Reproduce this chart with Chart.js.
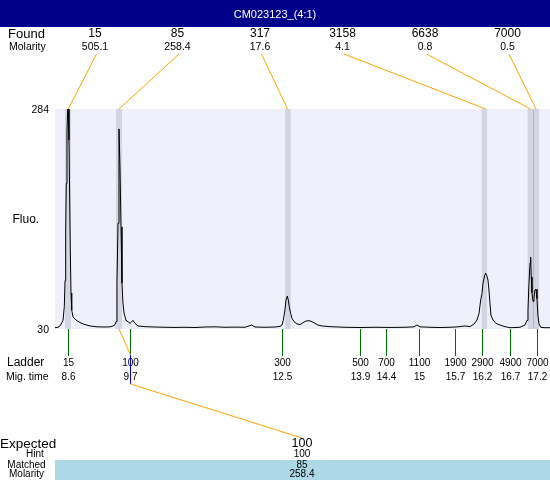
<!DOCTYPE html>
<html>
<head>
<meta charset="utf-8">
<script src="https://cdn.jsdelivr.net/npm/chart.js@4"></script>
<style>
  html, body { margin: 0; padding: 0; background: #ffffff; }
  canvas { display: block; }
</style>
</head>
<body>
<canvas id="c" width="550" height="480"></canvas>
<script>
// ---------- data ----------
const chartTitle = 'CM023123_(4:1)';

const foundSizes = ['15', '85', '317', '3158', '6638', '7000'];
const foundMolarity = ['505.1', '258.4', '17.6', '4.1', '0.8', '0.5'];
const foundTimes = [8.600, 9.531, 12.625, 16.263, 17.089, 17.187];
const bandStart = [8.540, 9.476, 12.582, 16.190, 17.034, 17.141];
const bandEnd   = [8.650, 9.586, 12.683, 16.287, 17.141, 17.242];

const ladderSizes = ['15', '100', '300', '500', '700', '1100', '1900', '2900', '4900', '7000'];
const ladderTimeLabels = ['8.6', '9.7', '12.5', '13.9', '14.4', '15', '15.7', '16.2', '16.7', '17.2'];
const ladderTimes = [8.600, 9.733, 12.524, 13.950, 14.433, 15.044, 15.705, 16.190, 16.709, 17.199];
const matchedLadderIndex = 1;
const matchedFoundIndex = 1;

const yTicks = [30, 284];

const expectedSize = '100';
const hintSize = '100';
const matchedSize = '85';
const matchedMolarity = '258.4';

const traceTime = [
  8.356, 8.411, 8.448, 8.479, 8.503, 8.527, 8.540, 8.552, 8.563, 8.576,
  8.589, 8.600, 8.613, 8.626, 8.637, 8.650, 8.663, 8.686, 8.723, 8.760,
  8.815, 8.888, 8.999, 9.127, 9.274, 9.366, 9.421, 9.458, 9.476, 9.494,
  9.513, 9.531, 9.549, 9.568, 9.586, 9.604, 9.623, 9.659, 9.696, 9.733,
  9.760, 9.788, 9.825, 9.880, 10.008, 10.192, 10.375, 10.559, 10.743, 10.926,
  11.110, 11.293, 11.477, 11.661, 11.844, 11.967, 12.028, 12.211, 12.395, 12.487,
  12.524, 12.547, 12.578, 12.597, 12.621, 12.639, 12.657, 12.683, 12.707, 12.744,
  12.799, 12.854, 12.909, 12.964, 13.019, 13.074, 13.129, 13.184, 13.258, 13.405,
  13.680, 13.955, 14.231, 14.506, 14.782, 14.947, 15.002, 15.057, 15.241, 15.424,
  15.608, 15.755, 15.883, 15.975, 16.049, 16.104, 16.141, 16.172, 16.196, 16.214,
  16.245, 16.263, 16.287, 16.305, 16.323, 16.342, 16.360, 16.397, 16.452, 16.526,
  16.617, 16.709, 16.801, 16.893, 16.985, 17.022, 17.040, 17.058, 17.077, 17.089,
  17.100, 17.113, 17.132, 17.150, 17.168, 17.187, 17.205, 17.223, 17.242, 17.273,
  17.352, 17.444
];
const traceFluo = [
  31.5, 32.0, 33.5, 37.0, 40.0, 55.8, 86.0, 141, 198, 256,
  284, 284, 248, 179, 121, 71.5, 52.0, 44.0, 41.5, 39.5,
  37.5, 35.5, 33.5, 32.5, 32.3, 32.5, 33.5, 35.0, 38.5, 84.6,
  152, 261, 217, 148, 83.0, 60.0, 48.5, 40.0, 38.5, 36.5,
  38.0, 40.0, 36.5, 33.5, 32.7, 32.3, 32.0, 31.8, 32.0, 31.7,
  32.3, 32.5, 32.0, 32.2, 32.0, 34.6, 32.3, 32.0, 32.3, 33.0,
  34.6, 40.0, 52.0, 63.5, 68.0, 63.5, 55.7, 48.0, 42.3, 38.5,
  35.8, 35.0, 37.3, 39.2, 39.6, 38.5, 36.5, 34.6, 33.5, 32.7,
  32.0, 31.7, 32.0, 31.8, 32.0, 32.5, 34.6, 32.5, 32.0, 31.7,
  32.0, 32.5, 33.5, 32.7, 35.8, 40.4, 48.0, 63.5, 71.0, 82.8,
  92.0, 94.5, 91.0, 86.6, 75.0, 59.7, 46.0, 40.4, 36.5, 34.6,
  32.7, 31.5, 31.7, 32.0, 34.6, 40.0, 52.0, 83.0, 106, 113,
  90.0, 72.0, 62.0, 66.0, 75.0, 76.0, 65.0, 45.0, 36.0, 32.0,
  31.5, 31.5
];

// ---------- drawing ----------
const FONT = '"Liberation Sans", Arial, Helvetica, sans-serif';
const ORANGE = '#FFA500';
const GREEN = '#007000';

function txt(ctx, s, x, y, size, align, color) {
  ctx.font = size + 'px ' + FONT;
  ctx.textAlign = align || 'center';
  ctx.textBaseline = 'middle';
  ctx.fillStyle = color || '#000000';
  ctx.fillText(s, x, y);
}
function seg(ctx, x1, y1, x2, y2, color) {
  ctx.beginPath();
  ctx.strokeStyle = color;
  ctx.lineWidth = 1;
  ctx.moveTo(x1, y1);
  ctx.lineTo(x2, y2);
  ctx.stroke();
}

const decor = {
  id: 'decor',
  beforeDraw(chart) {
    const ctx = chart.ctx, a = chart.chartArea;
    ctx.save();
    ctx.fillStyle = '#ffffff';
    ctx.fillRect(0, 0, chart.width, chart.height);
    ctx.fillStyle = '#00008B';
    ctx.fillRect(0, 0, chart.width, 27);
    ctx.fillStyle = '#F0F0FC';
    ctx.fillRect(a.left, a.top, a.right - a.left, a.bottom - a.top);
    ctx.restore();
  },
  beforeDatasetsDraw(chart) {
    const ctx = chart.ctx, a = chart.chartArea, xs = chart.scales.x;
    ctx.save();
    ctx.fillStyle = '#D4D4E2';
    for (let i = 0; i < bandStart.length; i++) {
      const x1 = xs.getPixelForValue(bandStart[i]);
      const x2 = xs.getPixelForValue(bandEnd[i]);
      ctx.fillRect(x1, a.top, x2 - x1, a.bottom - a.top);
    }
    // boundary where two bands touch
    for (let i = 1; i < bandStart.length; i++) {
      if (Math.abs(bandStart[i] - bandEnd[i - 1]) < 0.005) {
        const xb = Math.round(xs.getPixelForValue(bandStart[i])) + 0.5;
        seg(ctx, xb, a.top, xb, a.bottom, '#B4B4C4');
      }
    }
    ctx.restore();
  },
  afterDraw(chart) {
    const ctx = chart.ctx, a = chart.chartArea, xs = chart.scales.x, ys = chart.scales.y;
    ctx.save();
    // title
    txt(ctx, chartTitle, 275, 15, 11, 'center', '#ffffff');
    // found table
    txt(ctx, 'Found', 8, 34, 13, 'left');
    txt(ctx, 'Molarity', 9, 47.5, 10.5, 'left');
    for (let i = 0; i < foundSizes.length; i++) {
      const cx = 95 + i * 82.5;
      txt(ctx, foundSizes[i], cx, 34, 12);
      txt(ctx, foundMolarity[i], cx, 47.5, 10.5);
      seg(ctx, cx + 1.5, 54, xs.getPixelForValue(foundTimes[i]), a.top, ORANGE);
    }
    // y labels
    for (const v of yTicks) {
      txt(ctx, String(v), 49, ys.getPixelForValue(v) + 1, 10.5, 'right');
    }
    txt(ctx, 'Fluo.', 12.5, 220, 12, 'left');
    // ladder
    txt(ctx, 'Ladder', 7, 363, 12, 'left');
    txt(ctx, 'Mig. time', 6, 377, 10.5, 'left');
    for (let i = 0; i < ladderTimes.length; i++) {
      const lx = Math.round(xs.getPixelForValue(ladderTimes[i])) + 0.5;
      txt(ctx, ladderSizes[i], lx, 363.5, 10);
      txt(ctx, ladderTimeLabels[i], lx, 377.5, 10);
      seg(ctx, lx, a.bottom, lx, 356, GREEN);
    }
    // matched ladder connector
    const mx = Math.round(xs.getPixelForValue(ladderTimes[matchedLadderIndex])) + 0.5;
    const px = xs.getPixelForValue(foundTimes[matchedFoundIndex]);
    seg(ctx, mx, 355, mx, 384, '#0000FF');
    seg(ctx, px, a.bottom, mx, 355, ORANGE);
    seg(ctx, mx, 384, 302, 438, ORANGE);
    // bottom table
    ctx.fillStyle = '#ADD8E6';
    ctx.fillRect(55, 460, 495, 20);
    txt(ctx, 'Expected', 0, 444, 13.5, 'left');
    txt(ctx, 'Hint', 35, 454.5, 10);
    txt(ctx, 'Matched', 26.5, 465, 10);
    txt(ctx, 'Molarity', 26.5, 474.5, 10);
    txt(ctx, expectedSize, 302, 444, 12.5);
    txt(ctx, hintSize, 302, 454.5, 10);
    txt(ctx, matchedSize, 302, 465, 10);
    txt(ctx, matchedMolarity, 302, 474.5, 10);
    ctx.restore();
  }
};

const points = traceTime.map((t, i) => ({ x: t, y: traceFluo[i] }));

new Chart(document.getElementById('c'), {
  type: 'scatter',
  data: {
    datasets: [{
      data: points,
      showLine: true,
      borderColor: '#000000',
      borderWidth: 1,
      pointRadius: 0,
      tension: 0
    }]
  },
  options: {
    responsive: false,
    animation: false,
    devicePixelRatio: 1,
    layout: { padding: { left: 55, top: 109, right: 0, bottom: 151 } },
    scales: {
      x: { type: 'linear', min: 8.356, max: 17.444, display: false },
      y: { type: 'linear', min: 30, max: 284, display: false }
    },
    plugins: { legend: { display: false }, tooltip: { enabled: false } }
  },
  plugins: [decor]
});
</script>
</body>
</html>
